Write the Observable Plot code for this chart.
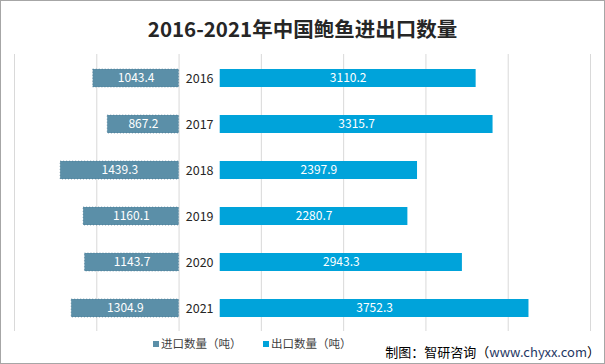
<!DOCTYPE html>
<html><head><meta charset="utf-8">
<script src="https://cdn.jsdelivr.net/npm/d3@7"></script>
<script src="https://cdn.jsdelivr.net/npm/@observablehq/plot@0.6"></script>
<style>
body{margin:0;background:#fff;font-family:"Noto Sans CJK SC","Noto Sans",sans-serif;}
#wrap{position:relative;width:605px;height:364px;overflow:hidden;background:#fff;}
#border{position:absolute;left:0;top:0;width:605px;height:364px;box-sizing:border-box;border:1px solid #a6a6a6;pointer-events:none;}
#title{position:absolute;left:0;top:13px;width:605px;text-align:center;font-size:20.5px;font-weight:bold;color:#262626;line-height:30px;}
#chart{position:absolute;left:0;top:45px;}
.leg{position:absolute;top:335px;font-size:11.5px;color:#404040;line-height:16px;white-space:nowrap;}
.sw{display:inline-block;width:6px;height:6px;margin-right:2px;vertical-align:1px;}
#cap{position:absolute;right:5px;top:342px;font-size:13px;color:#000;line-height:20px;white-space:nowrap;}
#cap span{color:#1f3864;}
</style></head>
<body>
<div id="wrap">
<div id="title">2016-2021年中国鲍鱼进出口数量</div>
<div id="chart"></div>
<div class="leg" style="left:153px"><span class="sw" style="background:#5b8fa8"></span>进口数量（吨）</div>
<div class="leg" style="left:263px"><span class="sw" style="background:#00a3da"></span>出口数量（吨）</div>
<div id="cap">制图：智研咨询（<span>www.chyxx.com</span>）</div>
<div id="border"></div>
</div>
<script>
const years = ["2016","2017","2018","2019","2020","2021"];
const imports = [1043.4, 867.2, 1439.3, 1160.1, 1143.7, 1304.9];
const exports = [3110.2, 3315.7, 2397.9, 2280.7, 2943.3, 3752.3];
const gridTicks = [-2000, -1000, 0, 1000, 2000, 3000, 4000, 5000];
const gap = 500; // spacer between the two halves (axis units)

const rows = years.map((y, i) => ({year: y, imp: imports[i], exp: exports[i]}));

const chart = Plot.plot({
  width: 605,
  height: 286,
  marginTop: 9,
  marginBottom: 0,
  marginLeft: 14,
  marginRight: 15,
  x: {domain: [-2000, 5000], axis: null},
  y: {domain: years, axis: null, paddingInner: 0.61, paddingOuter: 0.305},
  style: {fontFamily: '"Noto Sans CJK SC","Noto Sans",sans-serif', background: "transparent"},
  marks: [
    Plot.ruleX(gridTicks, {stroke: "#d9d9d9", strokeOpacity: 1, strokeWidth: 1}),
    Plot.barX(rows, {y: "year", x1: d => -d.imp, x2: 0, fill: "#5b8fa8", stroke: "#41708a", strokeOpacity: 0.6, strokeWidth: 1, strokeDasharray: "1,2"}),
    Plot.barX(rows, {y: "year", x1: gap, x2: d => gap + d.exp, fill: "#00a3da"}),
    Plot.text(rows, {y: "year", x: d => -d.imp / 2, text: d => d.imp.toFixed(1), fill: "#fff", fontSize: 12}),
    Plot.text(rows, {y: "year", x: d => gap + d.exp / 2, text: d => d.exp.toFixed(1), fill: "#fff", fontSize: 12}),
    Plot.text(rows, {y: "year", x: gap / 2, text: "year", fill: "#262626", fontSize: 12.5})
  ]
});
document.getElementById("chart").appendChild(chart);
</script>
</body></html>
